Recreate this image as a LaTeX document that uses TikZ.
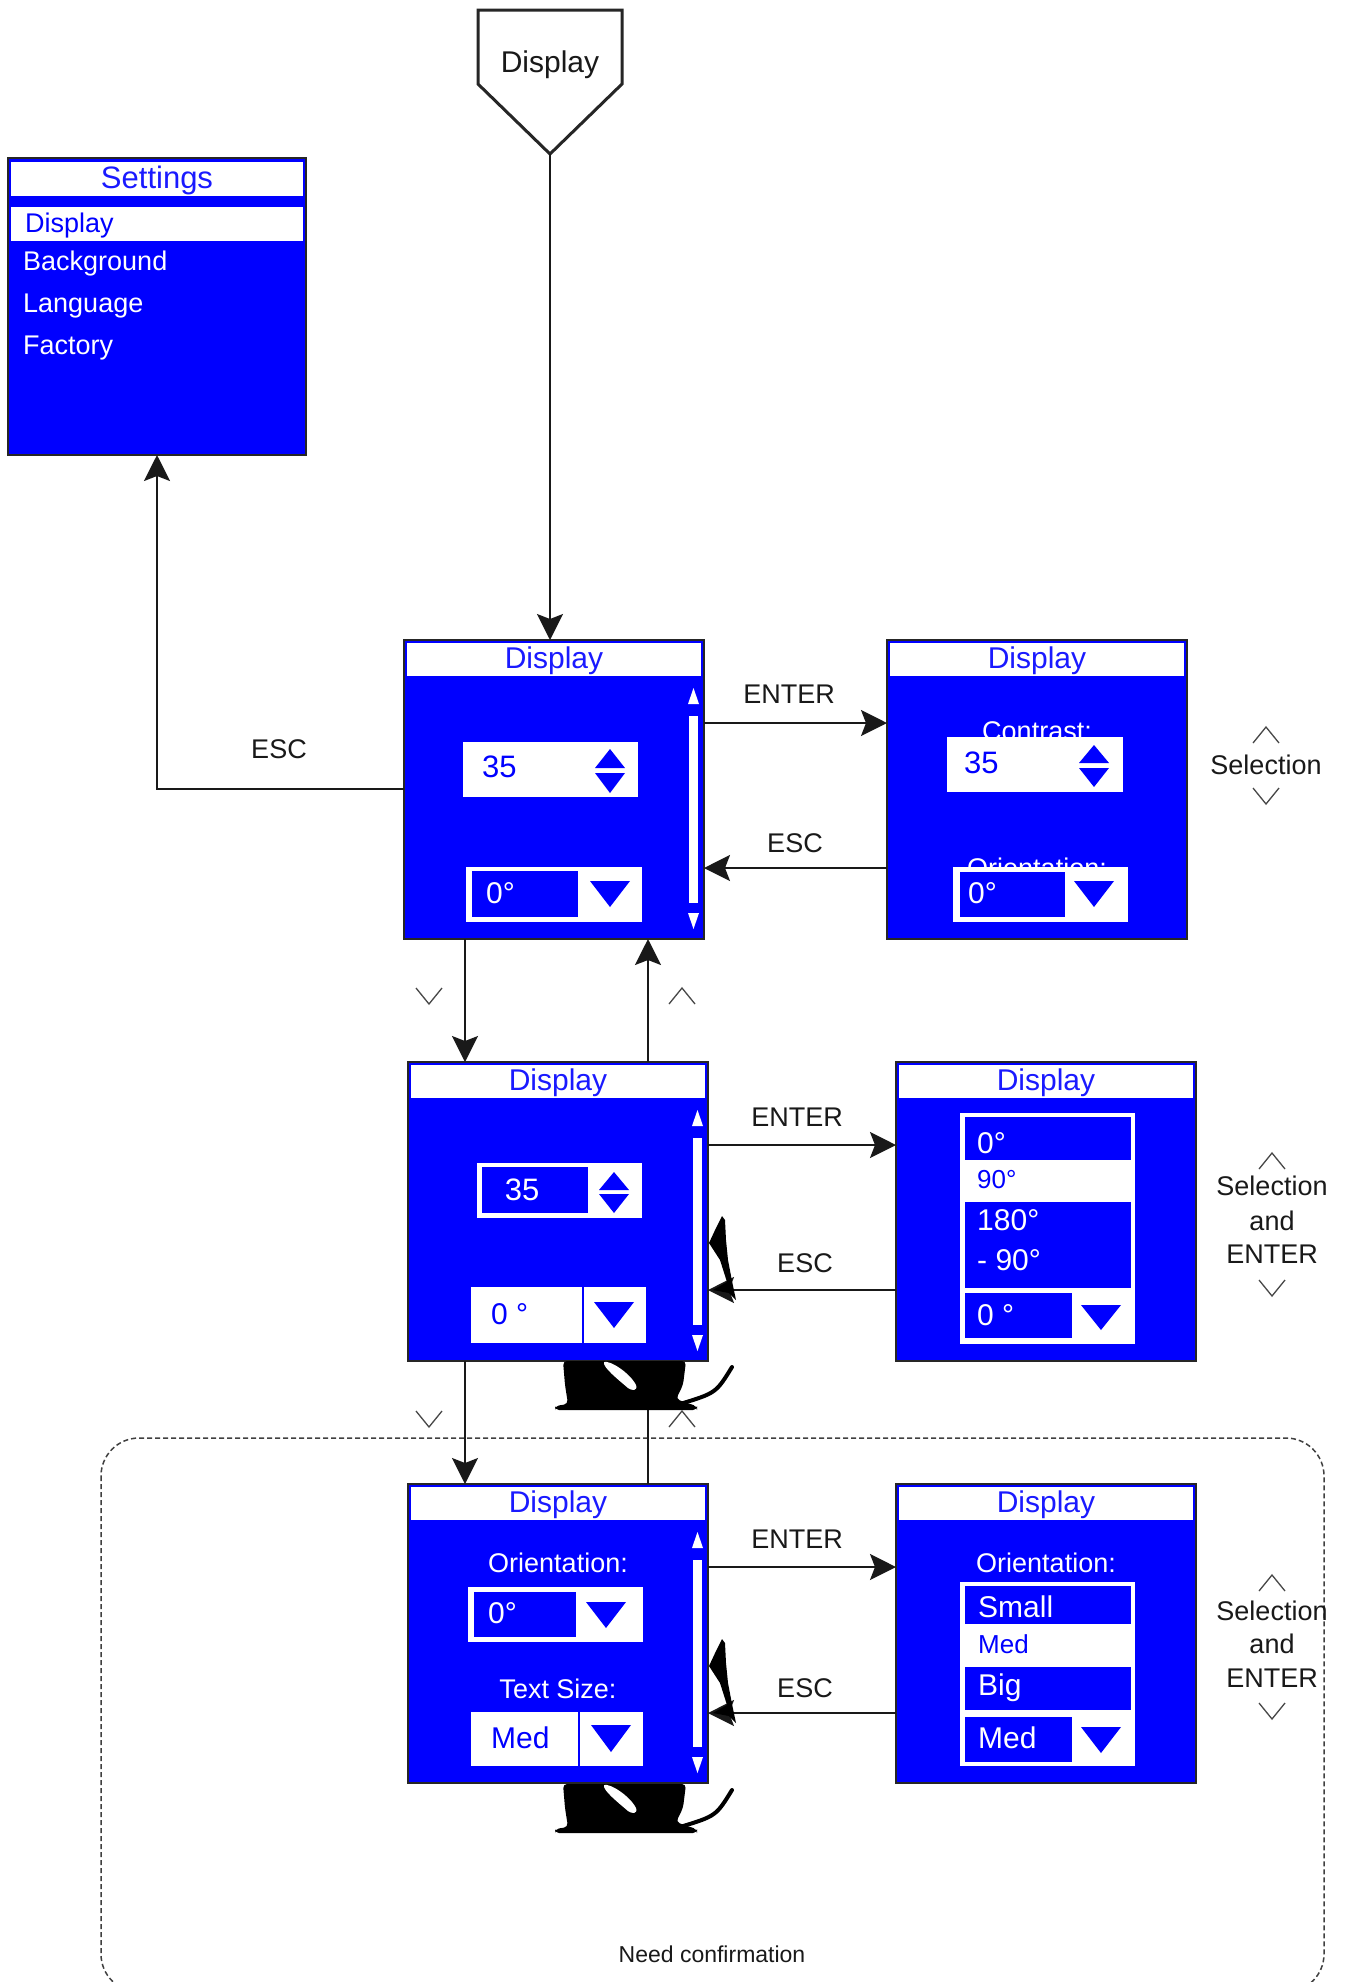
\documentclass[tikz,border=0pt]{standalone}
\usepackage{fontspec}
\setmainfont{Liberation Sans}
\usetikzlibrary{arrows.meta}
\definecolor{scrblue}{HTML}{0000FF}
\definecolor{ttlblue}{HTML}{1A1AFF}
\newcommand\fsz[1]{\fontsize{#1}{#1}\selectfont}
\newcommand\ttlbar[1]{\fill[white] (3,3) rectangle (297,36); \node[ttl] (#1t) at (150,28) {Display};}
\newcommand\scrbar{\fill[white] (289.5,48) -- (295,64) -- (284,64) -- cycle;
  \fill[white] (285,76) rectangle (294,263);
  \fill[white] (284,273) -- (295,273) -- (289.5,289) -- cycle;}
\newcommand\chevup[2]{\draw[chev] ({#1-13},{#2+8}) -- (#1,{#2-8}) -- ({#1+13},{#2+8});}
\newcommand\chevdn[2]{\draw[chev] ({#1-13},{#2-8}) -- (#1,{#2+8}) -- ({#1+13},{#2-8});}
\newcommand\blobat[1]{\begin{scope}[shift={#1}]
  \fill[black, rounded corners=4pt] (-85,0) -- (38,0) -- (35,24) -- (28,38) -- (42,43) -- (49,45) -- (49,49) -- (-93,49) -- (-93,45) -- (-80,43) -- (-83,24) -- cycle;
  \fill[white] (-44,1) .. controls (-38,-1) and (-18,12) .. (-12,24) .. controls (-10,30) and (-16,30) .. (-20,27) .. controls (-28,20) and (-46,6) .. (-44,1);
  \draw[black, line width=4pt, line cap=round] (84,6) .. controls (68,32) .. (32,43);
  \end{scope}}
\newcommand\spikeat[1]{\begin{scope}[shift={#1}]
  \fill[black] (0,0) -- (14,-8) -- (7,-30) -- (-4,-47) -- (3,-62) -- (9,-74) -- (12,-70) -- (13,-50) -- (15,-30) -- (19,-9) -- (23,10) -- (16,3) -- cycle;
  \end{scope}}
\begin{document}
\begin{tikzpicture}[x=1pt,y=-1pt,
  screen/.style={draw=black!85, line width=2pt, fill=scrblue, minimum width=300pt, minimum height=299pt, anchor=north west, inner sep=0pt, outer sep=0pt},
  conn/.style={line width=1.8pt, draw=black!90, -{Stealth[length=26pt,width=26pt,inset=5pt]}},
  ttl/.style={text=ttlblue, font=\fsz{30}, anchor=base, inner sep=0pt},
  wtxt/.style={text=white, font=\fsz{30}, anchor=base west, inner sep=0pt},
  btxt/.style={text=scrblue, font=\fsz{30}, anchor=base west, inner sep=0pt},
  wlab/.style={text=white, font=\fsz{27}, anchor=base, inner sep=0pt},
  lab/.style={text=black!90, font=\fsz{27}, anchor=base, inner sep=0pt},
  chev/.style={draw=black!72, line width=1.3pt}]
\useasboundingbox (0,0) rectangle (1345,1982);
\clip (0,0) rectangle (1345,1982);
\fill[white] (0,0) rectangle (1345,1982);

% dashed group frame
\draw[black!75, line width=1.5pt, dash pattern=on 5pt off 3pt, rounded corners=38pt] (101,1438) rectangle (1324,1992);
\node[lab, font=\fsz{23}] (needc) at (712,1962) {Need confirmation};

% start pentagon
\coordinate (toptip) at (550,154);
\draw[line width=3pt, black!85] (478,10) -- (622,10) -- (622,84) -- (toptip) -- (478,84) -- cycle;
\node[lab, font=\fsz{30}] (startT) at (550,72) {Display};

% settings box
\node[screen, minimum width=298pt, minimum height=297pt] (set) at (8,158) {};
\fill[white] (11,162) rectangle (303,196);
\node[ttl, font=\fsz{31}] (setT) at (157,188) {Settings};
\fill[white] (11,207) rectangle (303,241);
\node[btxt, font=\fsz{27}] (setA) at (25,232) {Display};
\node[wtxt, font=\fsz{27}] (setB) at (23,270) {Background};
\node[wtxt, font=\fsz{27}] (setC) at (23,312) {Language};
\node[wtxt, font=\fsz{27}] (setD) at (23,354) {Factory};

% screens
\node[screen] (b1) at (404,640) {};
\node[screen] (b2) at (887,640) {};
\node[screen] (c1) at (408,1062) {};
\node[screen] (c2) at (896,1062) {};
\node[screen] (d1) at (408,1484) {};
\node[screen] (d2) at (896,1484) {};

% b1
\begin{scope}[shift={(b1.north west)}]
\ttlbar{b1}
\fill[white] (59,102) rectangle (234,157);
\node[btxt, font=\fsz{31}] (b1v) at (78,137) {35};
\fill[scrblue] (206,109) -- (221,128) -- (191,128) -- cycle;
\fill[scrblue] (191,133) -- (221,133) -- (206,153) -- cycle;
\scrbar
\fill[white] (62,227) rectangle (238,282);
\fill[scrblue] (68,231) rectangle (174,277);
\node[wtxt] (b1o) at (82,263) {0°};
\fill[scrblue] (186,241) -- (226,241) -- (206,267) -- cycle;
\end{scope}

% b2
\begin{scope}[shift={(b2.north west)}]
\ttlbar{b2}
\node[wlab] (b2c) at (150,100) {Contrast:};
\fill[white] (60,97) rectangle (236,152);
\node[btxt, font=\fsz{31}] (b2v) at (77,133) {35};
\fill[scrblue] (207,105) -- (222,123) -- (192,123) -- cycle;
\fill[scrblue] (192,128) -- (222,128) -- (207,147) -- cycle;
\node[wlab] (b2o) at (150,237) {Orientation:};
\fill[white] (66,227) rectangle (241,282);
\fill[scrblue] (73,232) rectangle (178,277);
\node[wtxt] (b2d) at (81,263) {0°};
\fill[scrblue] (187,241) -- (227,241) -- (207,267) -- cycle;
\end{scope}

% c1
\begin{scope}[shift={(c1.north west)}]
\ttlbar{c1}
\fill[white] (69,101) rectangle (234,156);
\fill[scrblue] (74,105) rectangle (180,151);
\node[wtxt, anchor=base, font=\fsz{31}] (c1v) at (114,138) {35};
\fill[scrblue] (206,110) -- (221,128) -- (191,128) -- cycle;
\fill[scrblue] (191,132) -- (221,132) -- (206,151) -- cycle;
\scrbar
\fill[white] (63,225) rectangle (238,281);
\draw[scrblue, line width=2pt] (175,225) -- (175,281);
\node[btxt] (c1o) at (83,262) {0 °};
\fill[scrblue] (186,240) -- (226,240) -- (206,266) -- cycle;
\end{scope}

% c2
\begin{scope}[shift={(c2.north west)}]
\ttlbar{c2}
\fill[white] (64,51) rectangle (239,282);
\fill[scrblue] (69,55) rectangle (235,98);
\node[wtxt] (c2a) at (81,91) {0°};
\node[btxt, font=\fsz{26}] (c2b) at (81,126) {90°};
\fill[scrblue] (69,140) rectangle (235,226);
\node[wtxt] (c2c) at (81,168) {180°};
\node[wtxt] (c2d) at (81,208) {- 90°};
\fill[scrblue] (69,231) rectangle (176,276);
\node[wtxt] (c2e) at (81,263) {0 °};
\fill[scrblue] (185,243) -- (225,243) -- (205,268) -- cycle;
\end{scope}

% d1
\begin{scope}[shift={(d1.north west)}]
\ttlbar{d1}
\node[wlab] (d1a) at (150,88) {Orientation:};
\fill[white] (60,103) rectangle (235,158);
\fill[scrblue] (66,108) rectangle (168,153);
\node[wtxt] (d1b) at (80,139) {0°};
\fill[scrblue] (178,118) -- (218,118) -- (198,144) -- cycle;
\node[wlab] (d1c) at (150,214) {Text Size:};
\fill[white] (63,228) rectangle (235,282);
\draw[scrblue, line width=2pt] (171,228) -- (171,282);
\node[btxt] (d1d) at (83,264) {Med};
\fill[scrblue] (183,241) -- (223,241) -- (203,268) -- cycle;
\scrbar
\end{scope}

% d2
\begin{scope}[shift={(d2.north west)}]
\ttlbar{d2}
\node[wlab] (d2a) at (150,88) {Orientation:};
\fill[white] (64,98) rectangle (239,282);
\fill[scrblue] (69,102) rectangle (235,140);
\node[wtxt] (d2b) at (82,133) {Small};
\node[btxt, font=\fsz{26}] (d2c) at (82,169) {Med};
\fill[scrblue] (69,183) rectangle (235,226);
\node[wtxt] (d2d) at (82,211) {Big};
\fill[scrblue] (69,233) rectangle (176,278);
\node[wtxt] (d2e) at (82,264) {Med};
\fill[scrblue] (185,243) -- (225,243) -- (205,269) -- cycle;
\end{scope}

% connectors
\draw[conn] (toptip) -- (toptip |- b1.north);
\draw[conn] (b1.west |- 0,789) -| (set.south);
\draw[conn] (b1.east |- 0,723) -- (b2.west |- 0,723);
\draw[conn] (b2.west |- 0,868) -- (b1.east |- 0,868);
\draw[conn] (b1.south -| 465,0) -- (c1.north -| 465,0);
\draw[conn] (c1.north -| 648,0) -- (b1.south -| 648,0);
\draw[conn] (c1.east |- 0,1145) -- (c2.west |- 0,1145);
\draw[conn] (c2.west |- 0,1290) -- (c1.east |- 0,1290);
\draw[conn] (c1.south -| 465,0) -- (d1.north -| 465,0);
\draw[conn] (d1.north -| 648,0) -- (c1.south -| 648,0);
\draw[conn] (d1.east |- 0,1567) -- (d2.west |- 0,1567);
\draw[conn] (d2.west |- 0,1713) -- (d1.east |- 0,1713);

% connector labels
\node[lab] (e0) at (279,758) {ESC};
\node[lab] (e1) at (789,703) {ENTER};
\node[lab] (e2) at (795,852) {ESC};
\node[lab] (e3) at (797,1126) {ENTER};
\node[lab] (e4) at (805,1272) {ESC};
\node[lab] (e5) at (797,1548) {ENTER};
\node[lab] (e6) at (805,1697) {ESC};

% side hints
\node[lab] (s1) at (1266,774) {Selection};
\chevup{1266}{735}
\chevdn{1266}{796}
\node[lab] (s2a) at (1272,1195) {Selection};
\node[lab] (s2b) at (1272,1230) {and};
\node[lab] (s2c) at (1272,1263) {ENTER};
\chevup{1272}{1161}
\chevdn{1272}{1288}
\node[lab] (s3a) at (1272,1620) {Selection};
\node[lab] (s3b) at (1272,1653) {and};
\node[lab] (s3c) at (1272,1687) {ENTER};
\chevup{1272}{1583}
\chevdn{1272}{1711}
\chevdn{429}{996}
\chevup{682}{996}
\chevdn{429}{1419}
\chevup{682}{1419}

% render artefacts
\blobat{(648,1361)}
\blobat{(648,1784)}
\spikeat{(713,1290)}
\spikeat{(713,1713)}
\end{tikzpicture}
\end{document}
